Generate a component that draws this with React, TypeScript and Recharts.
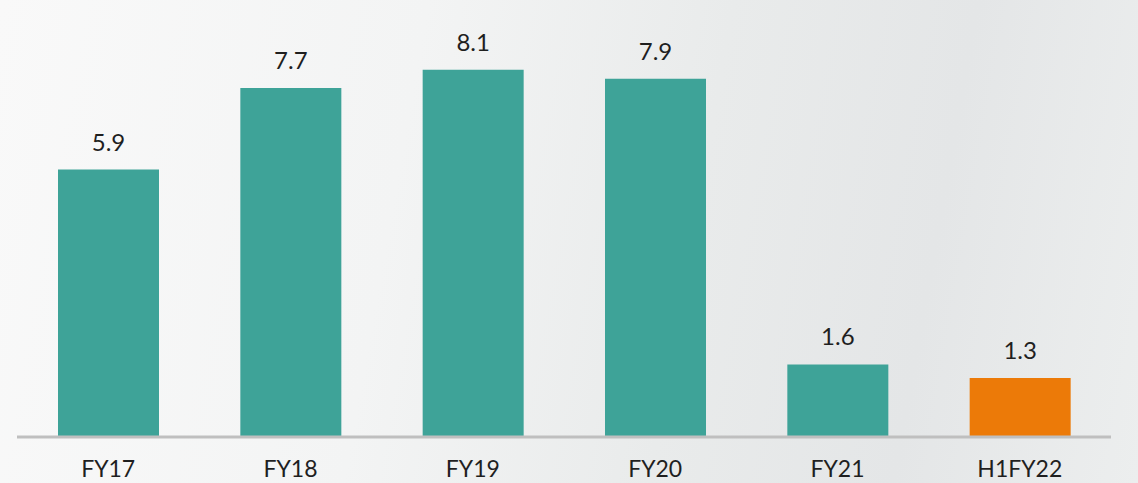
import React from "react";
import { BarChart, Bar, XAxis, YAxis, LabelList, Cell } from "recharts";

const categories = ["FY17", "FY18", "FY19", "FY20", "FY21", "H1FY22"];
const values = [5.9, 7.7, 8.1, 7.9, 1.6, 1.3];
const barColors = ["#3EA398", "#3EA398", "#3EA398", "#3EA398", "#3EA398", "#EC7A08"];

const data = categories.map((c, i) => ({ name: c, value: values[i] }));

export default function App() {
  return (
    <div
      style={{
        position: "absolute",
        left: 0,
        top: 0,
        width: 1138,
        height: 483,
        overflow: "hidden",
        background:
          "linear-gradient(100deg, #f9f9f9 0%, #f3f4f4 35%, #e9ebeb 60%, #e4e6e7 80%, #eceeee 100%)",
        fontFamily: "Lato, 'Noto Sans', sans-serif",
      }}
    >
      <BarChart
        width={1138}
        height={483}
        data={data}
        margin={{ top: 29, right: 27, left: 17, bottom: 0 }}
        barCategoryGap={0}
      >
        <YAxis hide domain={[0, 9]} />
        <XAxis
          dataKey="name"
          height={46}
          tickLine={false}
          tickSize={0}
          tickMargin={24}
          axisLine={{ stroke: "#bfbfbf", strokeWidth: 3 }}
          tick={{ fill: "#1f1f1f", fontSize: 23, fontFamily: "Lato, sans-serif", fontWeight: 400 }}
          interval={0}
        />
        <Bar dataKey="value" barSize={101} isAnimationActive={false}>
          {data.map((d, i) => (
            <Cell key={d.name} fill={barColors[i]} />
          ))}
          <LabelList
            dataKey="value"
            position="top"
            offset={19}
            fill="#1f1f1f"
            fontSize={24}
            fontWeight={400}
            fontFamily="Lato, sans-serif"
          />
        </Bar>
      </BarChart>
    </div>
  );
}
